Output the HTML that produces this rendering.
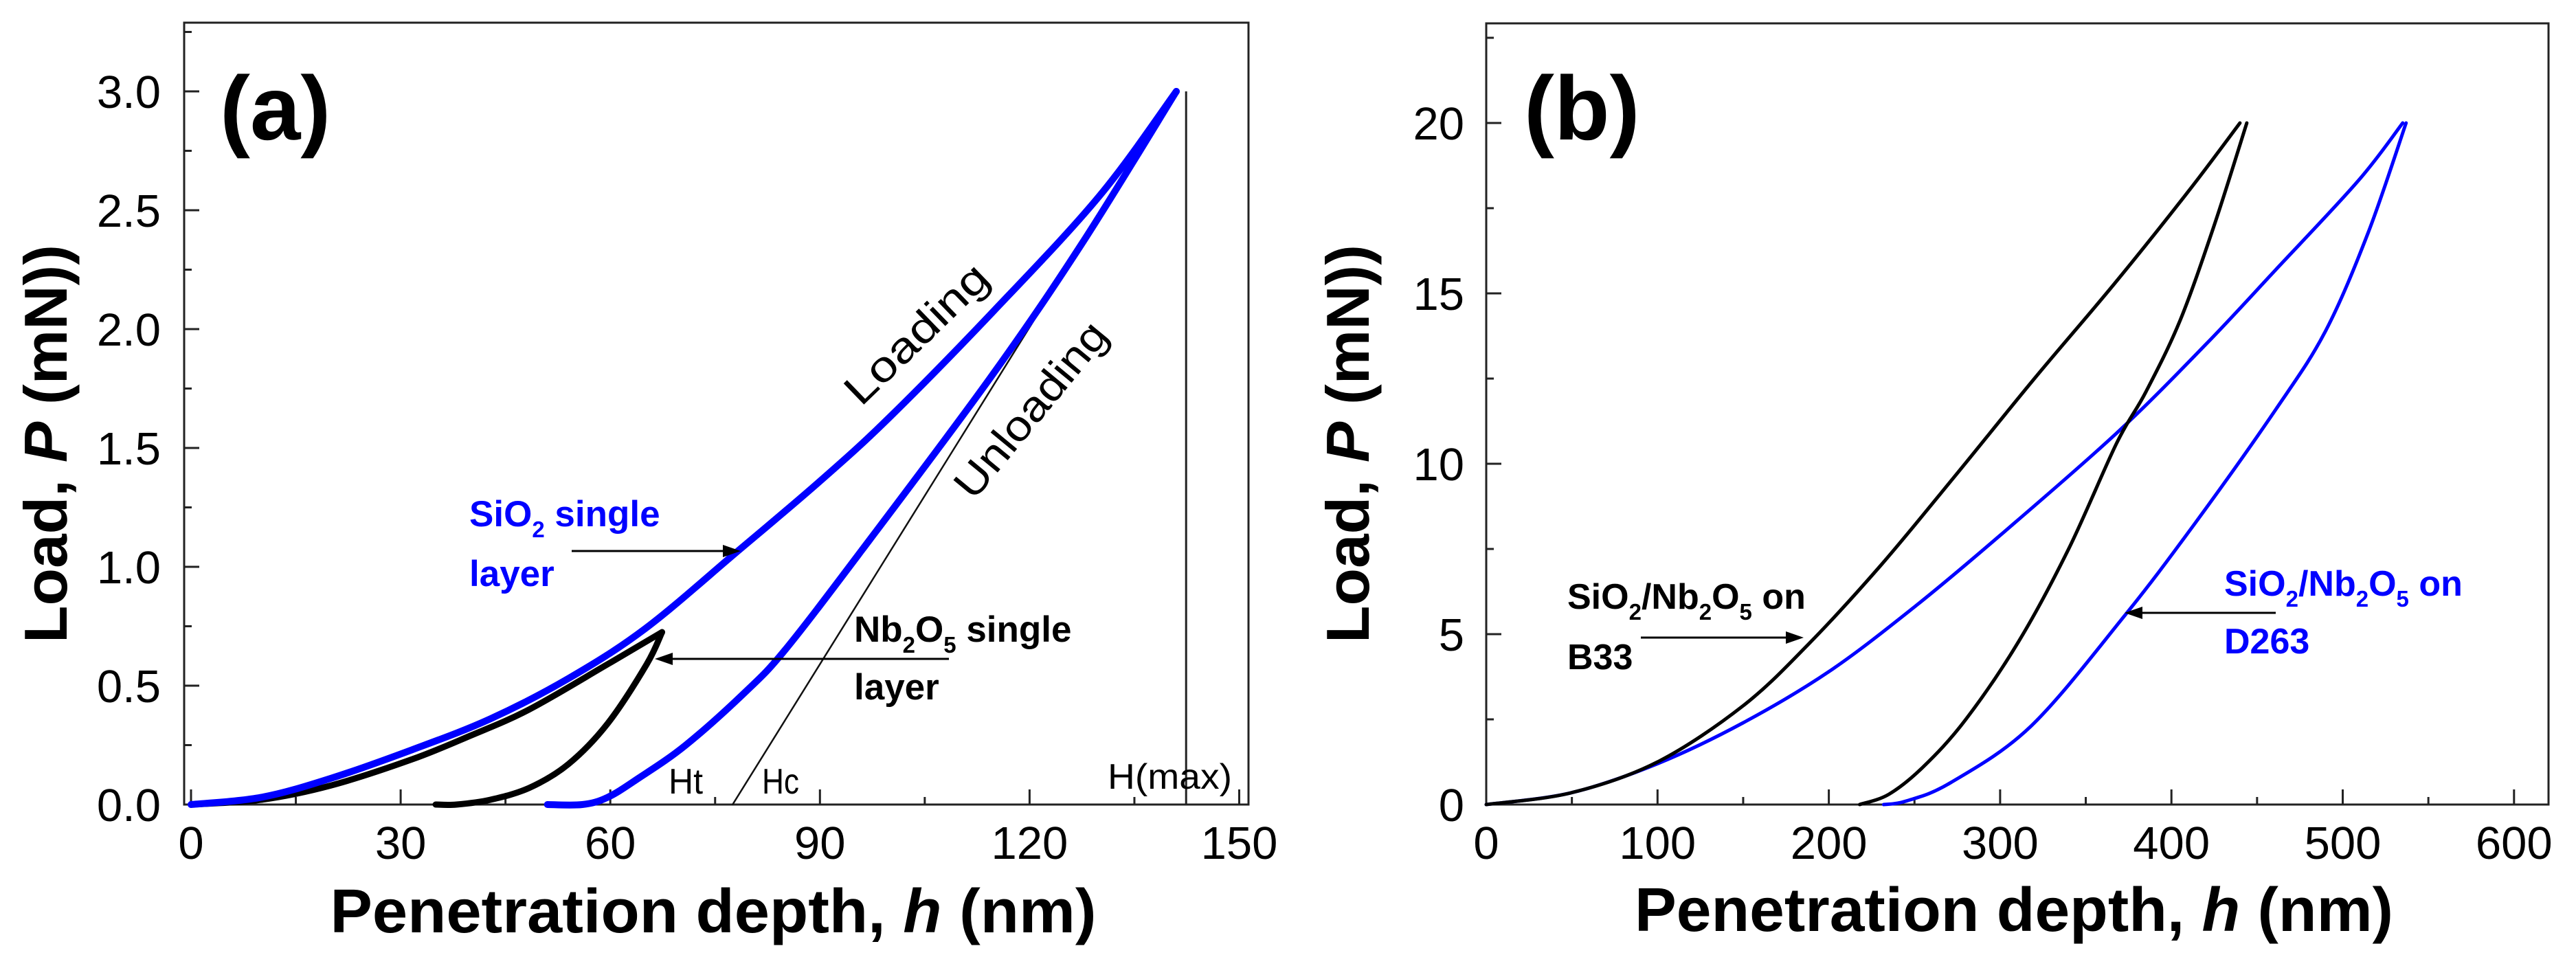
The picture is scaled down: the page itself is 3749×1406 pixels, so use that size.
<!DOCTYPE html>
<html><head><meta charset="utf-8">
<style>
html,body{margin:0;padding:0;background:#fff;}
svg{display:block;font-family:"Liberation Sans",Arial,sans-serif;}
</style></head>
<body>
<svg id="fig" width="3749" height="1406" viewBox="0 0 3749 1406" xmlns="http://www.w3.org/2000/svg">
  <rect x="0" y="0" width="3749" height="1406" fill="#fff"/>
  <g id="pa"></g>
  <g id="pb"></g>
</svg>
<script>
// ---------- Panel (a) data ----------
const aXTicks = [0, 30, 60, 90, 120, 150];
const aYTicks = [0.0, 0.5, 1.0, 1.5, 2.0, 2.5, 3.0];
const aYTickLabels = ["0.0","0.5","1.0","1.5","2.0","2.5","3.0"];
const aSiO2LoadH = [0, 10, 20, 31.6, 42.8, 54, 65, 78, 90, 100, 115, 130, 141];
const aSiO2LoadP = [0, 0.03, 0.11, 0.23, 0.36, 0.53, 0.74, 1.06, 1.36, 1.63, 2.08, 2.56, 3.0];
const aSiO2UnloadH = [141, 127.5, 114.5, 96, 85, 79.2, 70.8, 64, 59.6, 56, 51];
const aSiO2UnloadP = [3.0, 2.36, 1.80, 1.07, 0.65, 0.47, 0.25, 0.11, 0.03, 0.0, 0.0];
const aNbLoadH = [0, 10, 20, 31.6, 40, 48.4, 59.6, 67.4];
const aNbLoadP = [0, 0.02, 0.08, 0.19, 0.29, 0.40, 0.59, 0.725];
const aNbUnloadH = [67.4, 65.2, 59.6, 54, 48.4, 42.8, 38, 35];
const aNbUnloadP = [0.725, 0.59, 0.34, 0.17, 0.07, 0.02, 0.0, 0.0];
const aTangentH = [77.5, 141];
const aTangentP = [0.0, 3.0];
const aHmax = [142.4];

// ---------- Panel (b) data ----------
const bXTicks = [0, 100, 200, 300, 400, 500, 600];
const bYTicks = [0, 5, 10, 15, 20];
const bB33LoadH = [0, 50, 100, 150, 188, 230, 273, 320, 367, 410, 440];
const bB33LoadP = [0, 0.35, 1.25, 2.9, 4.7, 7.0, 9.6, 12.5, 15.3, 18.0, 20];
const bB33UnloadH = [444, 425, 405, 385, 368, 340, 311, 280, 255, 235, 218];
const bB33UnloadP = [20, 17.0, 14.2, 12.1, 10.6, 7.5, 4.8, 2.5, 1.1, 0.3, 0];
const bD263LoadH = [0, 50, 100, 150, 200, 250, 300, 368, 420, 461, 509, 535];
const bD263LoadP = [0, 0.35, 1.2, 2.4, 3.9, 5.8, 7.9, 10.9, 13.5, 15.7, 18.3, 20];
const bD263UnloadH = [537, 515, 490, 461, 413, 372, 318, 271, 245, 232];
const bD263UnloadP = [20, 16.8, 13.9, 11.6, 8.2, 5.5, 2.3, 0.64, 0.1, 0];

const NS = "http://www.w3.org/2000/svg";
function mk(parent, tag, attrs){
  const e = document.createElementNS(NS, tag);
  for (const k in attrs) e.setAttribute(k, attrs[k]);
  parent.appendChild(e);
  return e;
}
function smoothPath(pts){
  let d = "M" + pts[0][0].toFixed(1) + "," + pts[0][1].toFixed(1);
  for (let i = 0; i < pts.length - 1; i++){
    const p0 = pts[Math.max(0, i-1)], p1 = pts[i], p2 = pts[i+1], p3 = pts[Math.min(pts.length-1, i+2)];
    const c1x = p1[0] + (p2[0]-p0[0])/6, c1y = p1[1] + (p2[1]-p0[1])/6;
    const c2x = p2[0] - (p3[0]-p1[0])/6, c2y = p2[1] - (p3[1]-p1[1])/6;
    d += " C" + c1x.toFixed(1)+","+c1y.toFixed(1)+" "+c2x.toFixed(1)+","+c2y.toFixed(1)+" "+p2[0].toFixed(1)+","+p2[1].toFixed(1);
  }
  return d;
}
function series(g, xs, ys, X, Y, color, w, name, smooth){
  const pts = xs.map((h,i)=>[X(h), Y(ys[i])]);
  const p = mk(g, "path", {d: smooth===false ? "M"+pts.map(p=>p[0].toFixed(1)+","+p[1].toFixed(1)).join(" L") : smoothPath(pts), fill:"none", stroke:color, "stroke-width":w, "stroke-linejoin":"round", "stroke-linecap":"round"});
  
  
  return p;
}
function arrow(g, x1, y, x2, name){
  const grp = mk(g, "g", {});
  
  
  const dir = x2 > x1 ? 1 : -1;
  mk(grp, "line", {x1:x1, y1:y, x2:x2 - dir*14, y2:y, stroke:"#000", "stroke-width":3});
  mk(grp, "polygon", {points: x2+","+y+" "+(x2-dir*26)+","+(y-9)+" "+(x2-dir*26)+","+(y+9), fill:"#000"});
}

// ================= Panel (a) =================
(function(){
  const g = document.getElementById("pa");
  const L = 268, R = 1817, T = 33, B = 1171;
  const X = h => 278 + 10.17*h;
  const Y = p => 1171 - 346*p;
  const fr = mk(g, "rect", {x:L, y:T, width:R-L, height:B-T, fill:"none", stroke:"#222", "stroke-width":3});
  
  
  for (let i = 0; i < aXTicks.length; i++){
    const v = aXTicks[i], x = X(v);
    const t = mk(g, "line", {x1:x, y1:B, x2:x, y2:B-22, stroke:"#222", "stroke-width":3});
    
    
    if (i < aXTicks.length-1){
      const xm = X(v + 15);
      mk(g, "line", {x1:xm, y1:B, x2:xm, y2:B-11, stroke:"#222", "stroke-width":3});
    }
    const lb = mk(g, "text", {x:x, y:1250, "font-size":67, "text-anchor":"middle", fill:"#000"});
    lb.textContent = String(v);
    
    
  }
  for (let i = 0; i < aYTicks.length; i++){
    const v = aYTicks[i], y = Y(v);
    const t = mk(g, "line", {x1:L, y1:y, x2:L+22, y2:y, stroke:"#222", "stroke-width":3});
    
    
    const ym = Y(v + 0.25);
    if (ym > T) mk(g, "line", {x1:L, y1:ym, x2:L+11, y2:ym, stroke:"#222", "stroke-width":3});
    const lb = mk(g, "text", {x:234, y:y+24, "font-size":67, "text-anchor":"end", fill:"#000"});
    lb.textContent = aYTickLabels[i];
    
    
  }
  const hv = mk(g, "line", {x1:X(aHmax[0]), y1:Y(3.0), x2:X(aHmax[0]), y2:B, stroke:"#222", "stroke-width":3});
  
  
  series(g, aTangentH, aTangentP, X, Y, "#111", 2.5, "tangent-line", false);
  series(g, aNbLoadH, aNbLoadP, X, Y, "#000", 9, "nb2o5-loading-curve");
  series(g, aNbUnloadH, aNbUnloadP, X, Y, "#000", 9, "nb2o5-unloading-curve");
  series(g, aSiO2LoadH, aSiO2LoadP, X, Y, "#0000ff", 10, "sio2-loading-curve");
  series(g, aSiO2UnloadH, aSiO2UnloadP, X, Y, "#0000ff", 10, "sio2-unloading-curve");
  arrow(g, 832, 802, 1078, "sio2-arrow");
  arrow(g, 1381, 959, 953, "nb2o5-arrow");
})();

// ================= Panel (b) =================
(function(){
  const g = document.getElementById("pb");
  const L = 2163, R = 3709, T = 34, B = 1171;
  const X = h => 2163 + 2.493*h;
  const Y = p => 1171 - 49.6*p;
  const fr = mk(g, "rect", {x:L, y:T, width:R-L, height:B-T, fill:"none", stroke:"#222", "stroke-width":3});
  
  
  for (let i = 0; i < bXTicks.length; i++){
    const v = bXTicks[i], x = X(v);
    const t = mk(g, "line", {x1:x, y1:B, x2:x, y2:B-22, stroke:"#222", "stroke-width":3});
    
    
    if (i < bXTicks.length-1){
      const xm = X(v + 50);
      mk(g, "line", {x1:xm, y1:B, x2:xm, y2:B-11, stroke:"#222", "stroke-width":3});
    }
    const lb = mk(g, "text", {x:x, y:1250, "font-size":67, "text-anchor":"middle", fill:"#000"});
    lb.textContent = String(v);
    
    
  }
  for (let i = 0; i < bYTicks.length; i++){
    const v = bYTicks[i], y = Y(v);
    const t = mk(g, "line", {x1:L, y1:y, x2:L+22, y2:y, stroke:"#222", "stroke-width":3});
    
    
    const ym = Y(v + 2.5);
    if (ym > T) mk(g, "line", {x1:L, y1:ym, x2:L+11, y2:ym, stroke:"#222", "stroke-width":3});
    const lb = mk(g, "text", {x:2131, y:y+24, "font-size":67, "text-anchor":"end", fill:"#000"});
    lb.textContent = String(v);
    
    
  }
  series(g, bD263LoadH, bD263LoadP, X, Y, "#0000ff", 5, "d263-loading-curve");
  series(g, bD263UnloadH, bD263UnloadP, X, Y, "#0000ff", 5, "d263-unloading-curve");
  series(g, bB33LoadH, bB33LoadP, X, Y, "#000", 5, "b33-loading-curve");
  series(g, bB33UnloadH, bB33UnloadP, X, Y, "#000", 5, "b33-unloading-curve");
  arrow(g, 2388, 928, 2625, "b33-arrow");
  arrow(g, 3312, 892, 3092, "d263-arrow");
})();
</script>

<div style="position:absolute;left:0;top:0;width:3749px;height:1406px;pointer-events:none;">
<svg width="3749" height="1406" viewBox="0 0 3749 1406" xmlns="http://www.w3.org/2000/svg" style="font-family:'Liberation Sans',Arial,sans-serif">
  <text x="320" y="203" font-size="132" font-weight="bold">(a)</text>
  <text transform="translate(97,646) rotate(-90)" text-anchor="middle" font-size="88" font-weight="bold" textLength="580" lengthAdjust="spacingAndGlyphs">Load, <tspan font-style="italic">P</tspan> (mN))</text>
  <text x="1038" y="1357" text-anchor="middle" font-size="90" font-weight="bold" textLength="1115" lengthAdjust="spacingAndGlyphs">Penetration depth, <tspan font-style="italic">h</tspan> (nm)</text>
  <text x="683" y="766" font-size="53" font-weight="bold" fill="#0000ff">SiO<tspan font-size="33" dy="16">2</tspan><tspan dy="-16"> single</tspan></text>
  <text x="683" y="853" font-size="53" font-weight="bold" fill="#0000ff">layer</text>
  <text x="1243" y="934" font-size="53" font-weight="bold" fill="#000">Nb<tspan font-size="33" dy="16">2</tspan><tspan dy="-16">O</tspan><tspan font-size="33" dy="16">5</tspan><tspan dy="-16"> single</tspan></text>
  <text x="1243" y="1018" font-size="53" font-weight="bold" fill="#000">layer</text>
  <text transform="translate(1253,593) rotate(-44)" font-size="62" textLength="265" lengthAdjust="spacingAndGlyphs">Loading</text>
  <text transform="translate(1417,730) rotate(-50.5)" font-size="62" textLength="312" lengthAdjust="spacingAndGlyphs">Unloading</text>
  <text x="973" y="1155" font-size="52" textLength="50" lengthAdjust="spacingAndGlyphs">Ht</text>
  <text x="1109" y="1155" font-size="52" textLength="54" lengthAdjust="spacingAndGlyphs">Hc</text>
  <text x="1612" y="1148" font-size="52" textLength="181" lengthAdjust="spacingAndGlyphs">H(max)</text>
  <text x="2218" y="203" font-size="132" font-weight="bold">(b)</text>
  <text transform="translate(1992,646) rotate(-90)" text-anchor="middle" font-size="88" font-weight="bold" textLength="580" lengthAdjust="spacingAndGlyphs">Load, <tspan font-style="italic">P</tspan> (mN))</text>
  <text x="2931" y="1355" text-anchor="middle" font-size="90" font-weight="bold" textLength="1104" lengthAdjust="spacingAndGlyphs">Penetration depth, <tspan font-style="italic">h</tspan> (nm)</text>
  <text x="2281" y="886" font-size="52" font-weight="bold" fill="#000">SiO<tspan font-size="33" dy="16">2</tspan><tspan dy="-16">/Nb</tspan><tspan font-size="33" dy="16">2</tspan><tspan dy="-16">O</tspan><tspan font-size="33" dy="16">5</tspan><tspan dy="-16"> on</tspan></text>
  <text x="2281" y="974" font-size="52" font-weight="bold" fill="#000">B33</text>
  <text x="3237" y="867" font-size="52" font-weight="bold" fill="#0000ff">SiO<tspan font-size="33" dy="16">2</tspan><tspan dy="-16">/Nb</tspan><tspan font-size="33" dy="16">2</tspan><tspan dy="-16">O</tspan><tspan font-size="33" dy="16">5</tspan><tspan dy="-16"> on</tspan></text>
  <text x="3237" y="951" font-size="52" font-weight="bold" fill="#0000ff">D263</text>
</svg>
</div>
</body></html>
